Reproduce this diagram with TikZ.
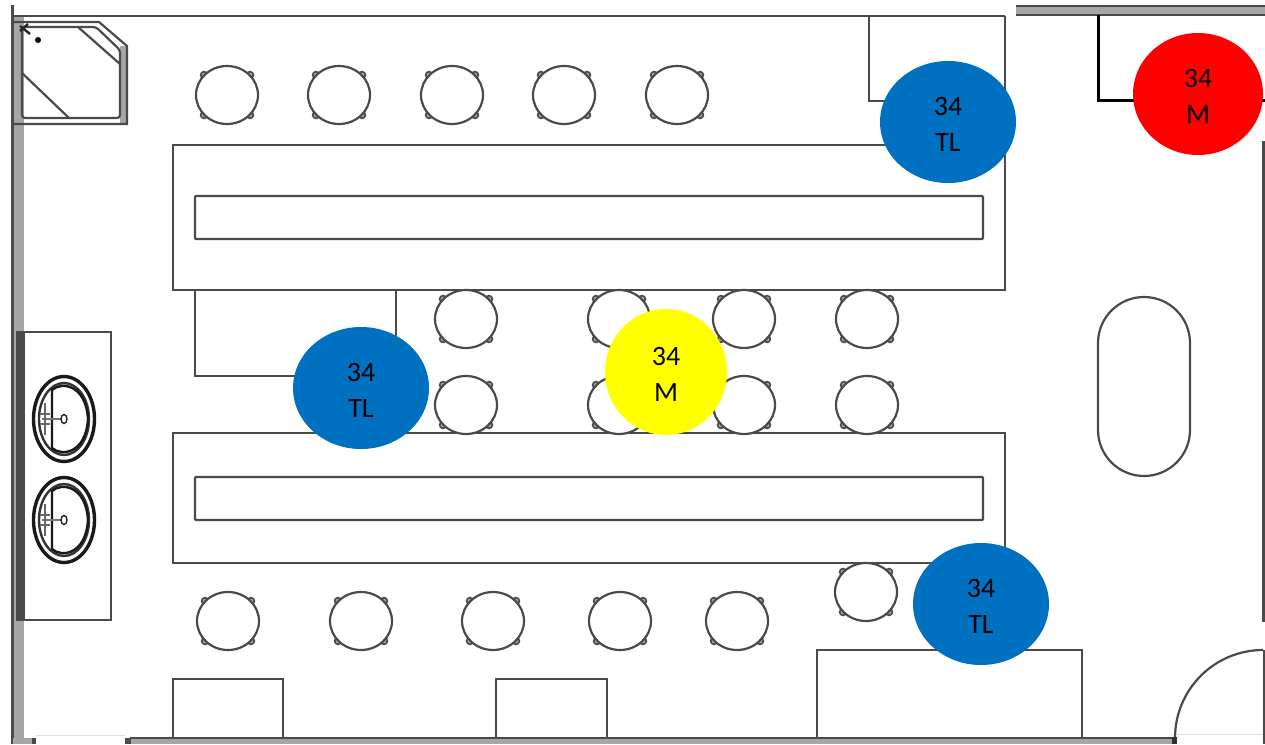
\documentclass[tikz,border=0pt]{standalone}
\usepackage{fontspec}
\setmainfont{Carlito}
\usepackage{xcolor}
\usetikzlibrary{shapes.geometric}
\definecolor{tlblue}{HTML}{0070C0}
\definecolor{mred}{HTML}{FF0000}
\definecolor{myellow}{HTML}{FFFF00}
\definecolor{wallgrey}{HTML}{A6A6A6}
\definecolor{wallline}{HTML}{4A4A4A}
\newcommand{\crewtag}[2]{\rule{0pt}{23pt}#1\\#2}

\begin{document}
\begin{tikzpicture}[
    x=1pt, y=-1pt,
    % walls and furniture
    wall/.style={fill=wallgrey, draw=none},
    edge/.style={draw=wallline, line width=2.2pt},
    thin edge/.style={draw=wallline, line width=1.6pt},
    % crew markers
    marker/.style={ellipse, draw=none, inner sep=0pt, align=center,
      minimum width=136pt, minimum height=122pt,
      font=\fontsize{28}{36}\selectfont},
    stool/.pic={
      \foreach \sx in {-1,1} \foreach \sy in {-1,1}
        \draw[thin edge, fill=black!35] (\sx*23,\sy*20) circle (3.4);
      \draw[edge, fill=white] (0,0) ellipse (31 and 29);
    },
    basin/.pic={
      \draw[draw=black!90, line width=3.4pt, fill=white] (0,0) ellipse (30.5 and 42.5);
      \draw[draw=black!80, line width=2.4pt] (0,0) ellipse (25 and 36);
      \draw[draw=black!90, line width=2.4pt] (-12,-29) .. controls (-2,-38) and (22,-34) .. (24,0)
        .. controls (22,34) and (-2,38) .. (-12,29) -- cycle;
      \draw[draw=black!55, line width=2.4pt] (-22,0) -- (-3,0);
      \draw[draw=black!60, line width=1.4pt] (-24,-5) -- (-14,-5) (-24,5) -- (-14,5)
        (-19,-16) -- (-19,16);
      \draw[draw=black!85, line width=1.4pt, fill=white] (0,0) ellipse (3 and 4.5);
    },
  ]
  \useasboundingbox (0,0) rectangle (1265,744);

  % outer walls
  \fill[wall] (13,16) rectangle (24,744);
  \fill[wallline] (17,332) rectangle (25,620);
  \draw[edge] (12.5,5) -- (12.5,744);
  \draw[edge] (13,16) -- (1005,16);
  \fill[wall] (1016,7) rectangle (1265,15);
  \draw[edge] (1016,6) -- (1265,6);
  \draw[edge] (1016,15) -- (1265,15);
  \fill[wall] (130,739) rectangle (1175,744);
  \draw[edge] (130,738) -- (1175,738);
  \fill[white] (24,736) rectangle (33,744);
  \fill[wall] (13,738) rectangle (33,744);
  \fill[wallline] (32,738) rectangle (36,744);
  \fill[wallline] (125,738) rectangle (131,744);
  \draw[draw=black!12, line width=1pt] (36,735) -- (125,735);
  \fill[wallline] (1262,141) rectangle (1265,622);
  \draw[thin edge] (1264,650) -- (1264,744);

  % door
  \draw[draw=black!12, line width=1pt] (1175,734) -- (1263,734);
  \draw[edge] (1175,738) arc[start angle=180, end angle=270, radius=88];
  \fill[black!80] (1172,737) rectangle (1177,744);

  % shower
  \fill[wall] (120,46) rectangle (127,124);
  \draw[edge] (14,22) -- (99,22) -- (127,46) -- (127,124) -- (14,124);
  \draw[edge, rounded corners=3pt] (22,27) -- (96,27) -- (120,50) -- (120,118) -- (22,118) -- cycle;
  \draw[edge] (78,27) -- (120,64);
  \draw[edge] (22,73) -- (69,118);
  \fill[black] (38,40) circle (3);
  \draw[draw=black!85, line width=2.4pt] (20,31) -- (28,24) (20,26) -- (30,34);

  % counters
  \draw[edge] (173,145) rectangle (1005,290);
  \draw[edge, rounded corners=1pt] (195,196) rectangle (983,239);
  \draw[edge] (173,433) rectangle (1005,563);
  \draw[edge, rounded corners=1pt] (195,477) rectangle (983,520);
  \draw[edge] (195,290) rectangle (396,376);

  % partitions and cabinets
  \draw[edge] (1005,16) -- (1005,145);
  \draw[edge] (869,16) -- (869,101) -- (920,101);
  \draw[draw=black, line width=3pt] (1098,15) -- (1098,100) -- (1265,100);
  \draw[edge] (1098,343) arc[start angle=180, end angle=360, radius=46] -- (1190,430)
    arc[start angle=0, end angle=180, radius=46] -- cycle;
  \draw[edge] (173,738) -- (173,679) -- (283,679) -- (283,738);
  \draw[edge] (496,738) -- (496,679) -- (607,679) -- (607,738);
  \draw[edge] (817,738) -- (817,650) -- (1082,650) -- (1082,738);

  % vanity
  \draw[edge] (17,332) rectangle (111,620);
  \pic at (64,419) {basin};
  \pic at (64,520) {basin};

  % stools
  \foreach \px in {227,339,452,564,677}
    \pic at (\px,95) {stool};
  \foreach \px in {466,619,744,867} {
    \pic at (\px,319) {stool};
    \pic at (\px,405) {stool};
  }
  \foreach \px in {228,361,493,620,737}
    \pic at (\px,621) {stool};
  \pic at (866,592) {stool};

  % markers
  \node[marker, fill=tlblue] (tlnorth) at (948,122) {\crewtag{34}{TL}};
  \node[marker, fill=mred, minimum width=130pt] (mnorth) at (1198,94) {\crewtag{34}{M}};
  \node[marker, fill=tlblue] (tlwest) at (361,388) {\crewtag{34}{TL}};
  \node[marker, fill=myellow, minimum width=122pt, minimum height=126pt] (mcentre) at (666,372) {\crewtag{34}{M}};
  \node[marker, fill=tlblue] (tlsouth) at (981,604) {\crewtag{34}{TL}};
\end{tikzpicture}
\end{document}
